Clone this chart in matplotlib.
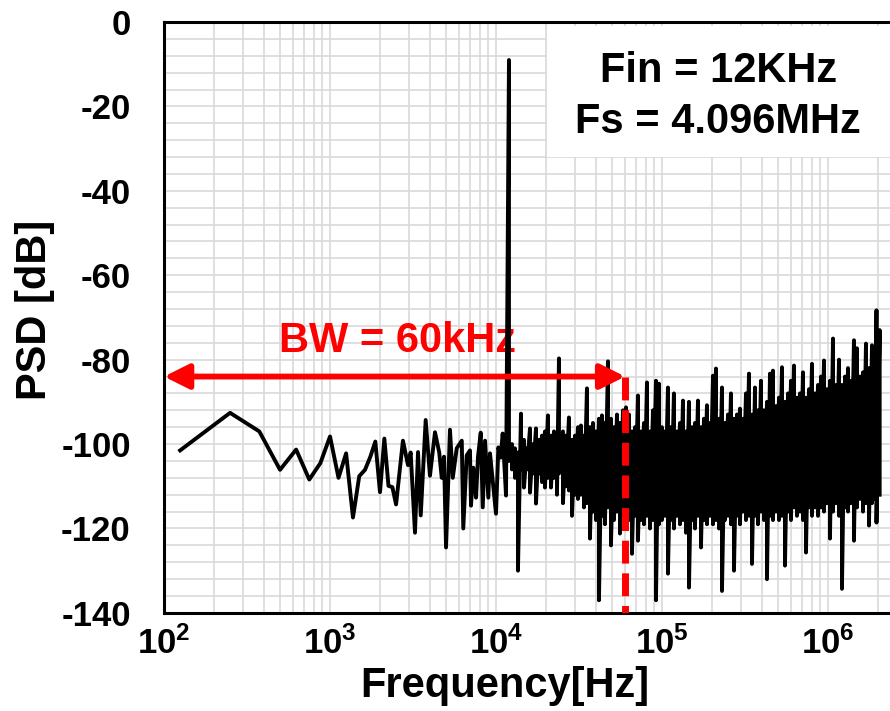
import matplotlib
matplotlib.use("Agg")
import matplotlib.pyplot as plt
from matplotlib.patches import FancyArrowPatch, Rectangle
from matplotlib.ticker import LogLocator, NullFormatter

plt.rcParams['font.family'] = ['Liberation Sans', 'DejaVu Sans']
plt.rcParams['font.weight'] = 'bold'
plt.rcParams['axes.unicode_minus'] = False
plt.rcParams['mathtext.fontset'] = 'custom'
plt.rcParams['mathtext.rm'] = 'Liberation Sans:bold'
plt.rcParams['mathtext.bf'] = 'Liberation Sans:bold'
plt.rcParams['mathtext.it'] = 'Liberation Sans:bold'
plt.rcParams['mathtext.default'] = 'rm'

# --- low frequency part: single trace (Hz, dB)
low_freq_hz = [125, 250, 375, 500, 625, 750, 875, 1000, 1125, 1250,
               1375, 1500, 1625, 1750, 1875, 2000, 2125, 2250, 2375, 2500,
               2750, 2950, 3060, 3250, 3390, 3520, 3770, 4000, 4290, 4550,
               4710, 4860, 5000, 5280, 5490, 5800, 6220, 6350, 6660, 6970,
               7070, 7300, 7580, 7790, 8090, 8320, 8590, 8990, 9200, 9550,
               10000, 10330, 10670, 10970, 11490]
low_db = [-101.5, -92.6, -97.0, -106.1, -101.3, -108.4, -104.5, -98.2, -108.0, -102.2,
          -117.4, -107.6, -106.1, -103.0, -99.4, -111.4, -98.7, -109.9, -110.2, -114.3,
          -99.2, -105.0, -102.0, -121.0, -101.9, -116.9, -94.3, -107.5, -97.2, -102.0,
          -108.0, -103.0, -124.5, -96.6, -108.0, -101.0, -99.2, -120.0, -102.7, -101.5,
          -114.6, -105.6, -112.7, -103.0, -97.3, -115.0, -99.2, -112.7, -102.2, -108.7,
          -116.5, -100.8, -103.2, -97.5, -112.2]

# --- in-band dense part: (kHz, upper, lower)
mid_khz = [11.97, 12.48, 13.01, 13.56, 14.14, 14.74, 15.36, 16.02, 16.70, 17.41,
           18.15, 18.92, 19.72, 20.56, 21.43, 22.34, 23.29, 23.95, 25.31, 26.39,
           27.51, 28.68, 29.90, 31.17, 32.49, 33.87, 35.31, 36.81, 38.38, 40.01,
           41.71, 43.48, 45.33, 47.26, 49.26, 51.36, 53.54, 55.81, 58.19, 60.66]
mid_hi = [-9, -100, -101, -102, -92.8, -99, -101, -96.3, -100, -96.3,
          -99, -98, -97, -93.2, -98, -97, -98, -79.7, -97, -98,
          -93.7, -99, -98, -96, -95.6, -98, -86.8, -96, -95, -97,
          -94, -93.2, -95, -80.4, -94, -96, -93, -95, -92, -91.3]
mid_lo = [-104, -106, -108, -130, -106, -110.3, -106, -111.5, -107, -114.1,
          -107, -109, -110.3, -108, -110.3, -108, -112, -107, -114, -110,
          -111, -117, -112, -113, -112, -115, -114, -122.4, -116, -118,
          -137, -117, -119, -115, -124, -118, -116, -121.2, -117, -120]

# --- out-of-band shaped noise: (kHz, upper, lower)
high_khz = [63.24, 65.93, 68.73, 71.65, 74.69, 77.87, 81.18, 84.63, 88.22, 91.97,
            95.88, 99.96, 104.2, 108.6, 113.2, 118.0, 123.1, 128.3, 133.8, 139.4,
            145.4, 151.5, 158.0, 164.7, 171.7, 179.0, 186.6, 194.5, 202.8, 211.4,
            220.4, 229.8, 239.5, 249.7, 260.3, 271.4, 282.9, 294.9, 307.5, 320.5,
            334.2, 348.4, 363.2, 378.6, 394.7, 411.5, 429.0, 447.2, 466.2, 486.1,
            506.7, 528.2, 550.7, 574.1, 598.5, 623.9, 650.4, 678.1, 706.9, 736.9,
            768.3, 800.9, 835.0, 870.4, 907.4, 946.0, 986.2, 1028, 1072, 1117,
            1165, 1214, 1266, 1320, 1376, 1434, 1495, 1559, 1625, 1694,
            1766, 1841, 1919, 1960, 2048]
high_hi = [-93, -97, -96, -88.5, -97, -95, -85.4, -97, -92, -85,
           -85.7, -96, -97, -86.6, -96, -88, -97, -95, -89.7, -97,
           -90, -96, -95, -89.7, -96, -94, -90.8, -95, -83.8, -82.1,
           -94, -86.6, -95, -93, -88, -94, -93, -91.6, -94, -88,
           -83.3, -93, -86.6, -92, -85, -92, -90, -83.3, -82.6, -91,
           -89, -81.8, -90, -88, -85, -81.4, -89, -88, -83, -89,
           -87, -81, -88, -86, -84, -80.2, -87, -85, -75, -86,
           -80, -86, -84, -82, -85, -75.4, -77.3, -84, -83, -76.2,
           -82, -76.6, -80, -68.3, -73]
high_lo = [-118, -126, -117, -122.9, -118, -119, -117, -120, -118, -137,
           -119, -118, -117, -130.7, -118, -120, -117, -119, -118, -121,
           -134, -118, -120, -117, -124.5, -118, -119, -117, -119, -118,
           -120, -134.8, -118, -117, -119, -130, -117, -119, -116, -118,
           -117, -128.4, -117, -119, -116, -118, -132, -117, -118, -116,
           -118, -117, -128.8, -116, -118, -115, -117, -116, -118, -125.7,
           -115, -117, -115, -117, -115, -116, -114, -122.4, -116, -114,
           -117, -134.3, -115, -116, -114, -122.9, -115, -113, -116, -114,
           -119.3, -114, -113, -118.6, -112]

bw_hz = 60000
bw_level = -84
xtick_vals = [1e2, 1e3, 1e4, 1e5, 1e6]
xtick_text = [r'$10^{2}$', r'$10^{3}$', r'$10^{4}$', r'$10^{5}$', r'$10^{6}$']

# stitch the trace together
freq = list(low_freq_hz)
psd = list(low_db)
for f, h, l in zip(mid_khz + high_khz, mid_hi + high_hi, mid_lo + high_lo):
    freq += [f * 1e3, f * 1e3]
    psd += [h, l]

fig = plt.figure(figsize=(8.9, 7.11), dpi=100)
ax = fig.add_axes([0.1843, 0.138, 0.835, 0.831])

ax.plot(freq, psd, color='black', lw=2.8, zorder=3)

ax.set_xscale('log')
ax.set_xlim(100, 3e6)
ax.set_ylim(-140, 0)
ax.set_xticks(xtick_vals)
ax.set_xticklabels(xtick_text)
ax.xaxis.set_minor_locator(LogLocator(base=10, subs=range(2, 10), numticks=20))
ax.xaxis.set_minor_formatter(NullFormatter())
ax.set_yticks(range(-140, 1, 20))
ax.set_yticks(range(-140, 1, 4), minor=True)
ax.grid(which='both', color='#d9d9d9', lw=1.2)
ax.set_axisbelow(True)
ax.tick_params(which='both', length=0)
ax.tick_params(axis='y', labelsize=25, pad=24)
ax.tick_params(axis='x', labelsize=25, pad=10)

for s in ['left', 'bottom', 'top']:
    ax.spines[s].set_linewidth(2.2)
ax.spines['right'].set_visible(False)

# white box behind the settings text
ax.add_patch(Rectangle((0.5155, 0.772), 0.6, 0.222, transform=ax.transAxes,
                       facecolor='white', edgecolor='none', zorder=1.5))
ax.text(0.7456, 0.898, 'Fin = 12KHz', transform=ax.transAxes, ha='center',
        va='baseline', fontsize=30, fontweight='bold', zorder=2)
ax.text(0.7456, 0.812, 'Fs = 4.096MHz', transform=ax.transAxes, ha='center',
        va='baseline', fontsize=30, fontweight='bold', zorder=2)

# bandwidth marker
ax.text(2533, -78.3, 'BW = 60kHz', color='red', ha='center', va='baseline',
        fontsize=30, fontweight='bold', zorder=2.5)
arrow = FancyArrowPatch((100, bw_level), (bw_hz, bw_level),
                        arrowstyle='<|-|>,head_length=1.5,head_width=0.75',
                        mutation_scale=10, color='red', lw=4.2,
                        shrinkA=0, shrinkB=0, zorder=4, clip_on=False)
ax.add_patch(arrow)
ax.plot([bw_hz, bw_hz], [bw_level, -140], color='red', lw=5,
        linestyle=(0, (3.3, 1.4)), zorder=4)

fig.text(0.039, 0.564, 'PSD [dB]', rotation=90, ha='center', va='center',
         fontsize=30, fontweight='bold')
fig.text(0.567, 0.035, 'Frequency[Hz]', ha='center', va='center',
         fontsize=30, fontweight='bold')

fig.savefig('out.png', dpi=100)
